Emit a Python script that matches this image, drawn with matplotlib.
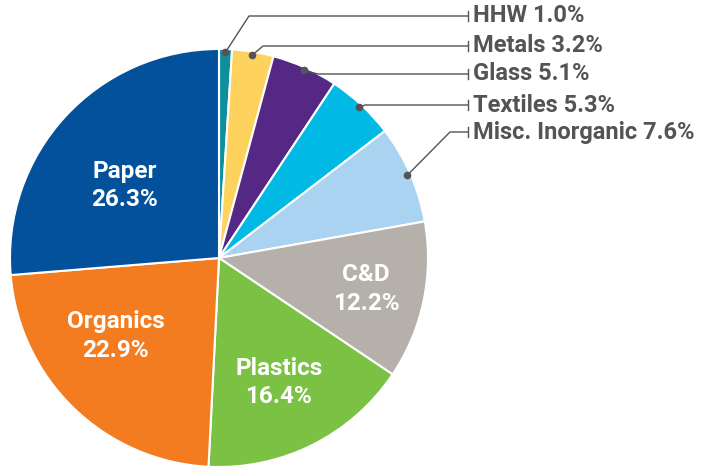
import numpy as np
import matplotlib.pyplot as plt

# Waste composition shares (%), clockwise from 12 o'clock
categories = ['HHW', 'Metals', 'Glass', 'Textiles', 'Misc. Inorganic',
              'C&D', 'Plastics', 'Organics', 'Paper']
shares = [1.0, 3.2, 5.1, 5.3, 7.6, 12.2, 16.4, 22.9, 26.3]
colors = ['#0E8F9B', '#FDD35E', '#562886', '#00B9E4', '#A9D3F0',
          '#B5B0AA', '#7BC143', '#F47C20', '#02519A']

# which wedges get outside call-outs vs inside labels
outside = ['HHW', 'Metals', 'Glass', 'Textiles', 'Misc. Inorganic']

W, H = 706, 467
cx, cy, R = 219, 209, 209
txt_gray = '#545456'

fig = plt.figure(figsize=(W / 100, H / 100), dpi=100)
ax = fig.add_axes([0, 0, 1, 1])
wedges, _ = ax.pie(shares, colors=colors, startangle=90, counterclock=False,
                   center=(cx, cy), radius=R,
                   wedgeprops=dict(edgecolor='white', linewidth=1.5))
ax.set_xlim(0, W)
ax.set_ylim(0, H)
ax.set_aspect('equal')
ax.axis('off')

# call-out layout (pixels from top for label rows, knee x for the elbow)
label_rows = [16, 46, 74, 105, 132]
knee_x = [249, 263, 318, 365, 450]
line_end = 468

font = ['Roboto', 'DejaVu Sans']
for i, name in enumerate(outside):
    w = wedges[categories.index(name)]
    mid = np.deg2rad((w.theta1 + w.theta2) / 2)
    px = cx + 0.985 * R * np.cos(mid)
    py = cy + 0.985 * R * np.sin(mid)
    ly = H - label_rows[i]
    ax.plot([px, knee_x[i], line_end], [py, ly, ly], color=txt_gray, lw=1)
    ax.plot([line_end, line_end], [ly - 5, ly + 5], color=txt_gray, lw=1)
    ax.plot(px, py, 'o', color=txt_gray, ms=4.5)
    pct = shares[categories.index(name)]
    ax.text(line_end + 5, ly, f'{name} {pct:.1f}%', ha='left', va='center',
            fontsize=17, fontweight='bold', color=txt_gray, family=font)

# inside labels: radial fraction and angular nudge (deg)
inside_pos = {'C&D': (0.72, 0), 'Plastics': (0.66, -1),
              'Organics': (0.62, -9), 'Paper': (0.57, 5)}
for name, (frac, nudge) in inside_pos.items():
    k = categories.index(name)
    w = wedges[k]
    mid = np.deg2rad((w.theta1 + w.theta2) / 2 + nudge)
    tx = cx + frac * R * np.cos(mid)
    ty = cy + frac * R * np.sin(mid)
    ax.text(tx, ty, f'{name}\n{shares[k]:.1f}%', ha='center', va='center',
            fontsize=17.5, fontweight='bold', color='white', linespacing=1.3,
            family=font)

fig.savefig('out.png', dpi=100)
